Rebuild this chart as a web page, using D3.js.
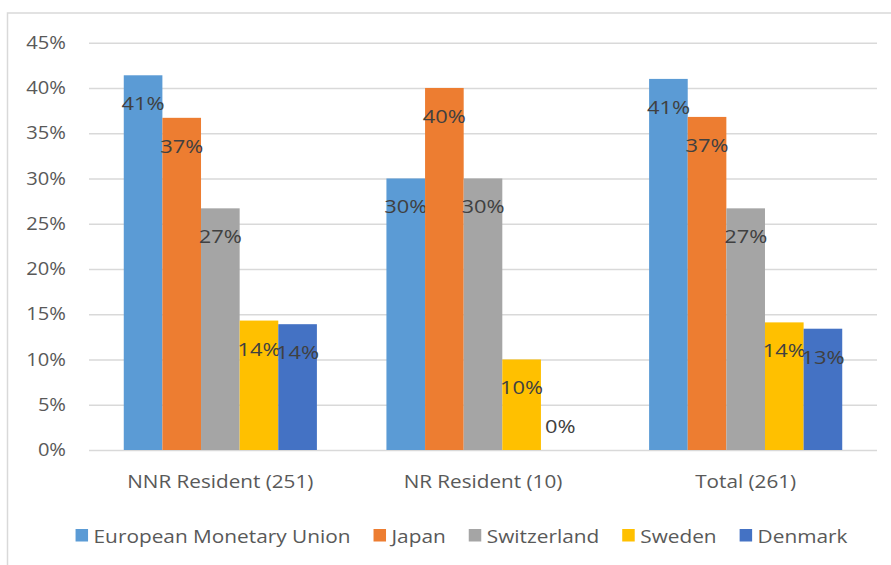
<!DOCTYPE html>
<html>
<head>
<meta charset="utf-8">
<script src="https://cdn.jsdelivr.net/npm/d3@7"></script>
<style>
  html, body { margin: 0; padding: 0; background: #fff; }
  svg { display: block; font-family: 'Open Sans', sans-serif; }
</style>
</head>
<body>
<svg id="chart" width="891" height="565"></svg>
<script>
// data
const categories = ['NNR Resident (251)', 'NR Resident (10)', 'Total (261)']
const series = ['European Monetary Union', 'Japan', 'Switzerland', 'Sweden', 'Denmark']
const colors = ['#5B9BD5', '#ED7D31', '#A5A5A5', '#FFC000', '#4472C4']
const emu = [0.414, 0.30, 0.410]
const japan = [0.367, 0.40, 0.368]
const switzerland = [0.267, 0.30, 0.267]
const sweden = [0.143, 0.10, 0.141]
const denmark = [0.139, 0.00, 0.134]
const yTicks = [0, 0.05, 0.10, 0.15, 0.20, 0.25, 0.30, 0.35, 0.40, 0.45]

const values = [emu, japan, switzerland, sweden, denmark]
const sx = 1.15 // the source text is a bit wide, stretch glyphs horizontally

const svg = d3.select('#chart')

svg.append('rect')
  .attr('x', 7.5)
  .attr('y', 13)
  .attr('width', 900)
  .attr('height', 600)
  .style('fill', 'none')
  .style('stroke', '#d9d9d9')
  .style('stroke-width', 1.5)

const plot = { left: 89, right: 877, top: 42.7, bottom: 450 }

const y = d3.scaleLinear()
  .domain([0, 0.45])
  .range([plot.bottom, plot.top])

const x0 = d3.scaleBand()
  .domain(categories)
  .range([plot.left, plot.right])

const x1 = d3.scaleBand()
  .domain(series)
  .range([0, x0.bandwidth()])
  .paddingOuter(0.9)

// gridlines + y labels
const yAxis = svg.append('g')
  .attr('transform', `translate(${plot.left},0)`)
  .call(d3.axisLeft(y)
    .tickValues(yTicks)
    .tickFormat(d3.format('.0%'))
    .tickSize(-(plot.right - plot.left))
    .tickPadding(23))
yAxis.select('.domain').remove()
yAxis.selectAll('.tick line')
  .style('stroke', '#d9d9d9')
  .style('stroke-width', 1.5)
yAxis.selectAll('.tick text')
  .attr('x', -23 / sx)
  .attr('transform', `scale(${sx},1)`)
  .style('font-family', 'Open Sans')
  .style('font-size', '17.5px')
  .style('fill', '#595959')

// bars
const groups = svg.append('g')
  .selectAll('g')
  .data(categories)
  .join('g')
  .attr('transform', d => `translate(${x0(d)},0)`)

const cells = groups.selectAll('g')
  .data((c, ci) => series.map((s, si) => ({ s, si, v: values[si][ci] })))
  .join('g')

cells.append('rect')
  .attr('x', d => x1(d.s))
  .attr('y', d => y(d.v))
  .attr('width', x1.bandwidth())
  .attr('height', d => y(0) - y(d.v))
  .style('fill', d => colors[d.si])

cells.append('text')
  .attr('transform', d => {
    let ty = d.v > 0 ? y(d.v) + 35 : y(d.v) - 17
    return `translate(${x1(d.s) + x1.bandwidth() / 2},${ty}) scale(${sx},1)`
  })
  .attr('text-anchor', 'middle')
  .style('font-size', '19px')
  .style('fill', '#404040')
  .text(d => d3.format('.0%')(d.v))

// category labels
const xAxis = svg.append('g')
  .attr('transform', `translate(0,${plot.bottom})`)
  .call(d3.axisBottom(x0).tickSize(0))
xAxis.select('.domain').remove()
xAxis.selectAll('.tick text')
  .attr('y', 38)
  .attr('dy', null)
  .attr('transform', `scale(${sx},1)`)
  .style('font-family', 'Open Sans')
  .style('font-size', '18px')
  .style('fill', '#595959')

// legend
const legend = svg.append('g')
const items = legend.selectAll('g')
  .data(series)
  .join('g')

items.append('rect')
  .attr('y', 529)
  .attr('width', 12.5)
  .attr('height', 12.5)
  .style('fill', (d, i) => colors[i])

items.append('text')
  .attr('transform', `translate(18,542.5) scale(${sx},1)`)
  .style('font-size', '18.1px')
  .style('fill', '#595959')
  .text(d => d)

let offset = 0
items.each(function () {
  let w = d3.select(this).select('text').node().getComputedTextLength() * sx
  d3.select(this).attr('transform', `translate(${offset},0)`)
  offset += 18 + w + 23
})
offset -= 23
legend.attr('transform', `translate(${461.5 - offset / 2},0)`)
</script>
</body>
</html>
